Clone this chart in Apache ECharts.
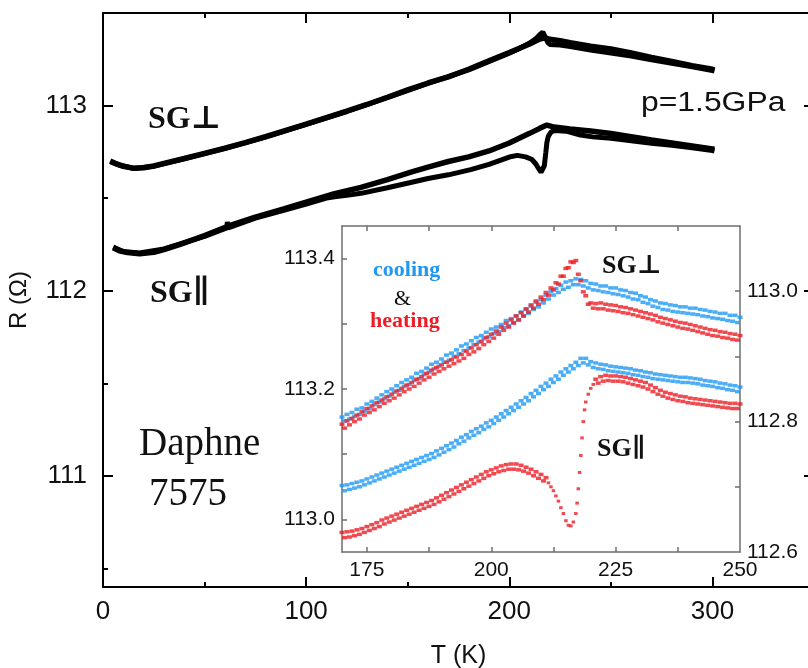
<!DOCTYPE html>
<html>
<head>
<meta charset="utf-8">
<title>R(T) Daphne 7575, p = 1.5 GPa</title>
<script src="https://cdn.jsdelivr.net/npm/echarts@6/dist/echarts.min.js"></script>
<style>
  html, body { margin: 0; padding: 0; background: #fff; }
  #chart { width: 808px; height: 668px; }
</style>
</head>
<body>
<div id="chart"></div>
<script>
// ---- Main panel: R(T) over the full temperature range (K, Ohm) ----
const perpCoolT = [3.5, 6, 10, 15, 20, 25, 30, 40, 50, 60, 70, 80, 90, 100, 110, 120, 130, 140, 150, 160, 170, 180, 190, 200, 210, 215, 217.5, 220, 225, 230, 240, 250, 260, 270, 280, 290, 300, 301];
const perpCoolR = [112.700, 112.688, 112.672, 112.662, 112.664, 112.674, 112.688, 112.714, 112.742, 112.770, 112.800, 112.832, 112.866, 112.900, 112.935, 112.970, 113.006, 113.045, 113.085, 113.122, 113.155, 113.196, 113.242, 113.287, 113.333, 113.359, 113.366, 113.358, 113.350, 113.339, 113.320, 113.306, 113.284, 113.260, 113.238, 113.216, 113.196, 113.192];

const perpHeatT = [4, 8, 15, 25, 40, 60, 80, 100, 120, 140, 160, 180, 200, 205, 210, 213, 215, 216.5, 217.5, 219, 220, 225, 230, 240, 250, 260, 270, 280, 290, 300, 301];
const perpHeatR = [112.694, 112.679, 112.660, 112.672, 112.712, 112.768, 112.830, 112.898, 112.968, 113.043, 113.120, 113.193, 113.283, 113.308, 113.338, 113.360, 113.383, 113.397, 113.375, 113.340, 113.330, 113.327, 113.319, 113.300, 113.284, 113.268, 113.247, 113.228, 113.209, 113.189, 113.187];

const parCoolT = [5, 8, 12, 18, 25, 30, 38, 50, 63, 75, 89, 100, 114, 127, 140, 152, 160, 170, 180, 190, 200, 210, 215, 218.5, 222, 230, 240, 250, 260, 270, 280, 290, 300, 301];
const parCoolR = [112.232, 112.216, 112.206, 112.200, 112.208, 112.222, 112.250, 112.298, 112.355, 112.398, 112.442, 112.478, 112.524, 112.558, 112.600, 112.642, 112.668, 112.698, 112.723, 112.755, 112.798, 112.850, 112.877, 112.895, 112.884, 112.874, 112.863, 112.849, 112.832, 112.814, 112.798, 112.782, 112.766, 112.764];

const parHeatT = [5, 10, 18, 30, 50, 60, 61, 61.2, 61.6, 75, 89, 100, 110, 114, 120, 127, 140, 152, 160, 170, 181, 190, 200, 204, 208, 211, 213, 214.5, 215.6, 216.5, 217.25, 218, 218.5, 219.2, 220.5, 222.5, 228, 235, 241, 250, 260, 270, 280, 290, 300, 301];
const parHeatR = [112.236, 112.212, 112.204, 112.226, 112.294, 112.335, 112.338, 112.372, 112.340, 112.392, 112.434, 112.468, 112.500, 112.508, 112.515, 112.526, 112.556, 112.586, 112.606, 112.626, 112.654, 112.683, 112.722, 112.731, 112.723, 112.710, 112.686, 112.659, 112.640, 112.646, 112.675, 112.748, 112.800, 112.834, 112.857, 112.866, 112.862, 112.841, 112.831, 112.823, 112.810, 112.796, 112.786, 112.772, 112.757, 112.755];

// ---- Inset: 170–250 K detail; readings come in two interleaved rows ----
const insetT = [170, 171, 172, 173, 174, 175, 176, 177, 178, 179, 180, 181, 182, 183, 184, 185, 186, 187, 188, 189, 190, 191, 192, 193, 194, 195, 196, 197, 198, 199, 200, 201, 202, 203, 204, 205, 206, 207, 208, 209, 210, 211, 212, 213, 214, 215, 216, 217, 218, 219, 220, 221, 222, 223, 224, 225, 226, 227, 228, 229, 230, 231, 232, 233, 234, 235, 236, 237, 238, 239, 240, 241, 242, 243, 244, 245, 246, 247, 248, 249, 250];
const insetHalfT = [170.5, 171.5, 172.5, 173.5, 174.5, 175.5, 176.5, 177.5, 178.5, 179.5, 180.5, 181.5, 182.5, 183.5, 184.5, 185.5, 186.5, 187.5, 188.5, 189.5, 190.5, 191.5, 192.5, 193.5, 194.5, 195.5, 196.5, 197.5, 198.5, 199.5, 200.5, 201.5, 202.5, 203.5, 204.5, 205.5, 206.5, 207.5, 208.5, 209.5, 210.5, 211.5, 212.5, 213.5, 214.5, 215.5, 216.5, 217.5, 218.5, 219.5, 220.5, 221.5, 222.5, 223.5, 224.5, 225.5, 226.5, 227.5, 228.5, 229.5, 230.5, 231.5, 232.5, 233.5, 234.5, 235.5, 236.5, 237.5, 238.5, 239.5, 240.5, 241.5, 242.5, 243.5, 244.5, 245.5, 246.5, 247.5, 248.5, 249.5];

// SG⊥ cooling (left inset axis)
const perpCoolRowA = [
  113.157, 113.161, 113.164, 113.169, 113.171, 113.177, 113.181, 113.186, 113.191, 113.196,
  113.200, 113.205, 113.210, 113.214, 113.218, 113.224, 113.227, 113.232, 113.238, 113.241,
  113.246, 113.252, 113.255, 113.260, 113.266, 113.269, 113.274, 113.279, 113.282, 113.287,
  113.292, 113.295, 113.299, 113.305, 113.308, 113.312, 113.318, 113.322, 113.327, 113.333,
  113.337, 113.344, 113.350, 113.354, 113.359, 113.364, 113.366, 113.369, 113.368, 113.366,
  113.362, 113.361, 113.358, 113.358, 113.355, 113.355, 113.352, 113.351, 113.348, 113.347,
  113.343, 113.341, 113.337, 113.335, 113.332, 113.331, 113.329, 113.328, 113.326, 113.326,
  113.324, 113.324, 113.322, 113.321, 113.319, 113.318, 113.316, 113.316, 113.313, 113.313,
  113.310];
const perpCoolRowB = [
  113.151, 113.154, 113.158, 113.161, 113.166, 113.170, 113.176, 113.180, 113.185, 113.189,
  113.195, 113.198, 113.204, 113.207, 113.213, 113.216, 113.222, 113.226, 113.231, 113.235,
  113.241, 113.244, 113.250, 113.254, 113.259, 113.263, 113.268, 113.272, 113.277, 113.280,
  113.285, 113.288, 113.294, 113.297, 113.302, 113.306, 113.312, 113.316, 113.322, 113.326,
  113.332, 113.338, 113.344, 113.348, 113.353, 113.356, 113.360, 113.360, 113.358, 113.355,
  113.352, 113.351, 113.349, 113.348, 113.346, 113.345, 113.343, 113.341, 113.338, 113.337,
  113.333, 113.331, 113.327, 113.325, 113.322, 113.321, 113.319, 113.318, 113.317, 113.316,
  113.315, 113.314, 113.312, 113.311, 113.309, 113.308, 113.307, 113.305, 113.304, 113.302];

// SG⊥ heating (left inset axis)
const perpHeatRowA = [
  113.146, 113.151, 113.155, 113.160, 113.165, 113.170, 113.174, 113.179, 113.183, 113.188,
  113.192, 113.197, 113.201, 113.206, 113.210, 113.215, 113.219, 113.224, 113.229, 113.233,
  113.237, 113.241, 113.245, 113.249, 113.253, 113.258, 113.263, 113.268, 113.273, 113.279,
  113.284, 113.289, 113.295, 113.301, 113.306, 113.312, 113.317, 113.323, 113.329, 113.335,
  113.341, 113.348, 113.355, 113.363, 113.373, 113.385, 113.395, 113.397, 113.366, 113.343,
  113.332, 113.331, 113.332, 113.330, 113.329, 113.328, 113.326, 113.325, 113.323, 113.321,
  113.319, 113.317, 113.315, 113.313, 113.310, 113.308, 113.306, 113.304, 113.302, 113.301,
  113.299, 113.297, 113.295, 113.293, 113.291, 113.290, 113.288, 113.287, 113.285, 113.284,
  113.282];
const perpHeatRowB = [
  113.140, 113.145, 113.150, 113.154, 113.160, 113.164, 113.168, 113.173, 113.178, 113.182,
  113.186, 113.191, 113.196, 113.200, 113.204, 113.209, 113.214, 113.218, 113.223, 113.227,
  113.231, 113.235, 113.239, 113.243, 113.247, 113.253, 113.257, 113.262, 113.268, 113.273,
  113.278, 113.284, 113.290, 113.295, 113.301, 113.306, 113.312, 113.318, 113.324, 113.330,
  113.337, 113.344, 113.352, 113.361, 113.373, 113.386, 113.394, 113.376, 113.349, 113.330,
  113.324, 113.323, 113.323, 113.321, 113.320, 113.319, 113.317, 113.316, 113.314, 113.312,
  113.310, 113.308, 113.306, 113.303, 113.301, 113.299, 113.297, 113.295, 113.293, 113.292,
  113.290, 113.288, 113.286, 113.284, 113.282, 113.281, 113.279, 113.278, 113.276, 113.275];

// SG∥ cooling (right inset axis)
const parCoolRowA = [
  112.702, 112.703, 112.705, 112.707, 112.709, 112.712, 112.715, 112.718, 112.721, 112.724,
  112.727, 112.730, 112.733, 112.736, 112.739, 112.742, 112.745, 112.748, 112.751, 112.755,
  112.759, 112.763, 112.767, 112.771, 112.776, 112.780, 112.785, 112.789, 112.793, 112.798,
  112.802, 112.807, 112.812, 112.817, 112.822, 112.827, 112.832, 112.837, 112.843, 112.848,
  112.854, 112.859, 112.865, 112.870, 112.876, 112.881, 112.886, 112.891, 112.897, 112.897,
  112.892, 112.890, 112.888, 112.887, 112.885, 112.884, 112.883, 112.882, 112.881, 112.879,
  112.878, 112.876, 112.875, 112.873, 112.872, 112.871, 112.870, 112.869, 112.868, 112.868,
  112.867, 112.866, 112.865, 112.863, 112.862, 112.861, 112.859, 112.858, 112.856, 112.855,
  112.853];
const parCoolRowB = [
  112.694, 112.696, 112.698, 112.700, 112.703, 112.706, 112.709, 112.712, 112.715, 112.718,
  112.721, 112.724, 112.727, 112.730, 112.733, 112.736, 112.739, 112.742, 112.745, 112.749,
  112.753, 112.757, 112.761, 112.766, 112.770, 112.775, 112.779, 112.783, 112.788, 112.792,
  112.797, 112.802, 112.807, 112.812, 112.817, 112.822, 112.827, 112.832, 112.838, 112.843,
  112.849, 112.854, 112.860, 112.865, 112.871, 112.876, 112.881, 112.886, 112.890, 112.887,
  112.883, 112.881, 112.880, 112.878, 112.877, 112.876, 112.875, 112.874, 112.872, 112.871,
  112.869, 112.868, 112.866, 112.865, 112.864, 112.863, 112.862, 112.861, 112.860, 112.860,
  112.859, 112.858, 112.856, 112.855, 112.854, 112.852, 112.851, 112.849, 112.848, 112.846];

// SG∥ heating (right inset axis): below and above the dip, then the dip itself
const parHeatLowT = [170, 171, 172, 173, 174, 175, 176, 177, 178, 179, 180, 181, 182, 183, 184, 185, 186, 187, 188, 189, 190, 191, 192, 193, 194, 195, 196, 197, 198, 199, 200, 201, 202, 203, 204, 205, 206, 207, 208, 209, 210, 211,
  170.5, 171.5, 172.5, 173.5, 174.5, 175.5, 176.5, 177.5, 178.5, 179.5, 180.5, 181.5, 182.5, 183.5, 184.5, 185.5, 186.5, 187.5, 188.5, 189.5, 190.5, 191.5, 192.5, 193.5, 194.5, 195.5, 196.5, 197.5, 198.5, 199.5, 200.5, 201.5, 202.5, 203.5, 204.5, 205.5, 206.5, 207.5, 208.5, 209.5, 210.5];
const parHeatLowR = [
  112.630, 112.631, 112.632, 112.634, 112.636, 112.639, 112.642, 112.645, 112.649, 112.652,
  112.655, 112.658, 112.661, 112.664, 112.667, 112.670, 112.673, 112.676, 112.679, 112.683,
  112.687, 112.691, 112.695, 112.699, 112.703, 112.707, 112.711, 112.715, 112.719, 112.723,
  112.726, 112.729, 112.732, 112.734, 112.735, 112.735, 112.733, 112.730, 112.727, 112.723,
  112.719, 112.714,
  112.622, 112.623, 112.625, 112.627, 112.630, 112.633, 112.636, 112.639, 112.643, 112.646,
  112.649, 112.652, 112.655, 112.658, 112.661, 112.664, 112.667, 112.670, 112.673, 112.677,
  112.681, 112.685, 112.689, 112.693, 112.697, 112.701, 112.705, 112.709, 112.713, 112.717,
  112.720, 112.723, 112.725, 112.727, 112.727, 112.726, 112.724, 112.721, 112.717, 112.713,
  112.709];
const parHeatHighT = [221, 222, 223, 224, 225, 226, 227, 228, 229, 230, 231, 232, 233, 234, 235, 236, 237, 238, 239, 240, 241, 242, 243, 244, 245, 246, 247, 248, 249, 250,
  221.5, 222.5, 223.5, 224.5, 225.5, 226.5, 227.5, 228.5, 229.5, 230.5, 231.5, 232.5, 233.5, 234.5, 235.5, 236.5, 237.5, 238.5, 239.5, 240.5, 241.5, 242.5, 243.5, 244.5, 245.5, 246.5, 247.5, 248.5, 249.5];
const parHeatHighR = [
  112.865, 112.869, 112.871, 112.870, 112.870, 112.869, 112.868, 112.866, 112.864, 112.862,
  112.860, 112.856, 112.852, 112.848, 112.845, 112.843, 112.841, 112.839, 112.838, 112.836,
  112.835, 112.834, 112.833, 112.832, 112.831, 112.830, 112.829, 112.828, 112.828, 112.827,
  112.859, 112.862, 112.863, 112.862, 112.862, 112.861, 112.859, 112.857, 112.855, 112.853,
  112.850, 112.846, 112.842, 112.839, 112.836, 112.834, 112.832, 112.831, 112.829, 112.828,
  112.827, 112.826, 112.825, 112.824, 112.823, 112.822, 112.821, 112.820, 112.820];
const parHeatDipT = [211.5, 212, 212.5, 213, 213.5, 214, 214.5, 215, 215.5, 216, 216.5, 217, 217.25, 217.5, 217.75, 218, 218.25, 218.5, 218.75, 219, 219.5, 220, 220.5];
const parHeatDipR = [112.706, 112.700, 112.694, 112.686, 112.678, 112.668, 112.659, 112.648, 112.641, 112.640, 112.646, 112.659, 112.675, 112.697, 112.722, 112.748, 112.775, 112.800, 112.818, 112.830, 112.842, 112.851, 112.857];

// ---- Tick positions ----
const mainXMajor = [0, 100, 200, 300];
const mainXMinor = [50, 150, 250];
const mainYMajor = [111, 112, 113];
const mainYMinor = [110.5, 111.5, 112.5];
const insetXLabels = [175, 200, 225, 250];
const insetXTicks = [175, 187.5, 200, 212.5, 225, 237.5];
const insetLeftLabels = [113.0, 113.2, 113.4];
const insetLeftTicks = [113.0, 113.1, 113.2, 113.3, 113.4];
const insetRightLabels = [112.6, 112.8, 113.0];
const insetRightTicks = [112.7, 112.8, 112.9, 113.0];

const zip = (xs, ys) => xs.map((x, i) => [x, ys[i]]);

const SANS = '"Liberation Sans", Arial, sans-serif';
const SERIF = '"Liberation Serif", "DejaVu Serif", "Times New Roman", serif';
const BLUE = '#1E98F2';
const RED = '#EE1C24';
const INSET_AXIS = '#6e6e6e';

function mainAxis(extra) {
  return Object.assign({
    gridIndex: 0,
    type: 'value',
    axisLine: { show: true, onZero: false, lineStyle: { color: '#000', width: 2 } },
    axisTick: { show: true, inside: true, length: 10, lineStyle: { color: '#000', width: 2 } },
    axisLabel: { show: false },
    splitLine: { show: false }
  }, extra);
}
function mainMinor(extra) {
  return Object.assign({
    gridIndex: 0,
    type: 'value',
    axisLine: { show: false, onZero: false },
    axisTick: { show: true, inside: true, length: 5, lineStyle: { color: '#000', width: 2 } },
    axisLabel: { show: false },
    splitLine: { show: false }
  }, extra);
}
function insetAxis(extra) {
  return Object.assign({
    gridIndex: 1,
    type: 'value',
    z: 10,
    axisLine: { show: true, onZero: false, lineStyle: { color: INSET_AXIS, width: 1.5 } },
    axisTick: { show: true, inside: true, length: 5, lineStyle: { color: INSET_AXIS, width: 1.5 } },
    axisLabel: { show: false },
    splitLine: { show: false }
  }, extra);
}
function tickSet(values, len, color) {
  return { show: true, inside: true, length: len, customValues: values, lineStyle: { color: color, width: color === '#000' ? 2 : 1.5 } };
}
function dashSeries(name, xi, yi, data, color, size) {
  return { name: name, type: 'scatter', xAxisIndex: xi, yAxisIndex: yi, data: data,
    symbol: 'rect', symbolSize: size || [5, 3.5], itemStyle: { color: color }, z: color === RED ? 12 : 11, silent: true };
}

const chart = echarts.init(document.getElementById('chart'), null, { renderer: 'canvas' });

const option = {
  backgroundColor: '#fff',
  animation: false,
  grid: [
    // the right-hand frame of the main panel sits just past the canvas edge
    { left: 103, top: 13, width: 711, bottom: 81, show: false, containLabel: false, outerBoundsMode: 'none' },
    { left: 342, top: 226, width: 398, height: 326, show: true, backgroundColor: '#fff', borderWidth: 0, z: 5,
      containLabel: false, outerBoundsMode: 'none' }
  ],
  xAxis: [
    mainAxis({
      position: 'bottom', min: 0, max: 350,
      axisTick: tickSet(mainXMajor, 10, '#000'),
      axisLabel: { show: true, customValues: mainXMajor, fontSize: 26, color: '#111', fontFamily: SANS, margin: 12 },
      name: 'T (K)', nameLocation: 'middle', nameGap: 57,
      nameTextStyle: { fontSize: 25, color: '#111', fontFamily: SANS }
    }),
    mainMinor({ position: 'bottom', min: 0, max: 350, axisTick: tickSet(mainXMinor, 5, '#000') }),
    mainAxis({ position: 'top', min: 0, max: 350, axisTick: tickSet(mainXMajor, 10, '#000') }),
    mainMinor({ position: 'top', min: 0, max: 350, axisTick: tickSet(mainXMinor, 5, '#000') }),
    insetAxis({
      position: 'bottom', min: 170, max: 250,
      axisTick: tickSet(insetXTicks, 5, INSET_AXIS),
      axisLabel: { show: true, customValues: insetXLabels, fontSize: 21, color: '#111', fontFamily: SANS, margin: 8 }
    }),
    insetAxis({ position: 'top', min: 170, max: 250, axisTick: tickSet(insetXTicks, 5, INSET_AXIS) })
  ],
  yAxis: [
    mainAxis({
      position: 'left', min: 110.4, max: 113.5,
      axisTick: tickSet(mainYMajor, 10, '#000'),
      axisLabel: { show: true, customValues: mainYMajor, fontSize: 26, color: '#111', fontFamily: SANS, margin: 16 },
      name: 'R (\u03A9)', nameLocation: 'middle', nameGap: 72,
      nameTextStyle: { fontSize: 24, color: '#111', fontFamily: SANS }
    }),
    mainMinor({ position: 'left', min: 110.4, max: 113.5, axisTick: tickSet(mainYMinor, 5, '#000') }),
    mainAxis({ position: 'right', min: 110.4, max: 113.5, axisTick: tickSet(mainYMajor, 10, '#000') }),
    mainMinor({ position: 'right', min: 110.4, max: 113.5, axisTick: tickSet(mainYMinor, 5, '#000') }),
    insetAxis({
      position: 'left', min: 112.95, max: 113.45,
      axisTick: tickSet(insetLeftTicks, 5, INSET_AXIS),
      axisLabel: { show: true, customValues: insetLeftLabels, fontSize: 21, color: '#111', fontFamily: SANS, margin: 7,
        formatter: v => Number(v).toFixed(1) }
    }),
    insetAxis({
      position: 'right', min: 112.6, max: 113.1,
      axisTick: tickSet(insetRightTicks, 5, INSET_AXIS),
      axisLabel: { show: true, customValues: insetRightLabels, fontSize: 21, color: '#111', fontFamily: SANS, margin: 7,
        formatter: v => Number(v).toFixed(1) }
    })
  ],
  series: [
    { name: 'SG⊥ cooling', type: 'line', xAxisIndex: 0, yAxisIndex: 0, data: zip(perpCoolT, perpCoolR),
      showSymbol: false, symbol: 'none', lineStyle: { color: '#000', width: 5.5 }, z: 2 },
    { name: 'SG⊥ heating', type: 'line', xAxisIndex: 0, yAxisIndex: 0, data: zip(perpHeatT, perpHeatR),
      showSymbol: false, symbol: 'none', lineStyle: { color: '#000', width: 5 }, z: 2 },
    { name: 'SG∥ cooling', type: 'line', xAxisIndex: 0, yAxisIndex: 0, data: zip(parCoolT, parCoolR),
      showSymbol: false, symbol: 'none', lineStyle: { color: '#000', width: 5.5 }, z: 2 },
    { name: 'SG∥ heating', type: 'line', xAxisIndex: 0, yAxisIndex: 0, data: zip(parHeatT, parHeatR),
      showSymbol: false, symbol: 'none', lineStyle: { color: '#000', width: 5 }, z: 2 },

    dashSeries('inset SG⊥ cooling', 4, 4, zip(insetT, perpCoolRowA).concat(zip(insetHalfT, perpCoolRowB)), BLUE),
    dashSeries('inset SG⊥ heating', 4, 4, zip(insetT, perpHeatRowA).concat(zip(insetHalfT, perpHeatRowB)), RED),
    dashSeries('inset SG∥ cooling', 4, 5, zip(insetT, parCoolRowA).concat(zip(insetHalfT, parCoolRowB)), BLUE),
    dashSeries('inset SG∥ heating', 4, 5, zip(parHeatLowT, parHeatLowR).concat(zip(parHeatHighT, parHeatHighR)), RED),
    dashSeries('inset SG∥ heating dip', 4, 5, zip(parHeatDipT, parHeatDipR), RED, [3.5, 3])
  ],
  graphic: [
    { type: 'text', x: 148, y: 120, z: 20, style: { text: 'SG\u22A5', font: 'bold 32px ' + SERIF, fill: '#111', verticalAlign: 'middle' } },
    { type: 'text', x: 150, y: 294, z: 20, style: { text: 'SG\u2225', font: 'bold 32px ' + SERIF, fill: '#111', verticalAlign: 'middle' } },
    { type: 'text', x: 641, y: 104, z: 20, scaleX: 1.18, style: { text: 'p=1.5GPa', font: '27px ' + SANS, fill: '#111', verticalAlign: 'middle' } },
    { type: 'text', x: 139, y: 445, z: 20, style: { text: 'Daphne', font: '39px ' + SERIF, fill: '#111', verticalAlign: 'middle' } },
    { type: 'text', x: 149, y: 495, z: 20, style: { text: '7575', font: '39px ' + SERIF, fill: '#111', verticalAlign: 'middle' } },
    { type: 'text', x: 602, y: 266, z: 20, style: { text: 'SG\u22A5', font: 'bold 26px ' + SERIF, fill: '#111', verticalAlign: 'middle' } },
    { type: 'text', x: 597, y: 449, z: 20, style: { text: 'SG\u2225', font: 'bold 26px ' + SERIF, fill: '#111', verticalAlign: 'middle' } },
    { type: 'text', x: 373, y: 270, z: 20, style: { text: 'cooling', font: 'bold 22px ' + SERIF, fill: BLUE, verticalAlign: 'middle' } },
    { type: 'text', x: 394, y: 299, z: 20, style: { text: '&', font: '22px ' + SERIF, fill: '#111', verticalAlign: 'middle' } },
    { type: 'text', x: 370, y: 321, z: 20, style: { text: 'heating', font: 'bold 22px ' + SERIF, fill: RED, verticalAlign: 'middle' } }
  ]
};

chart.setOption(option);
</script>
</body>
</html>
